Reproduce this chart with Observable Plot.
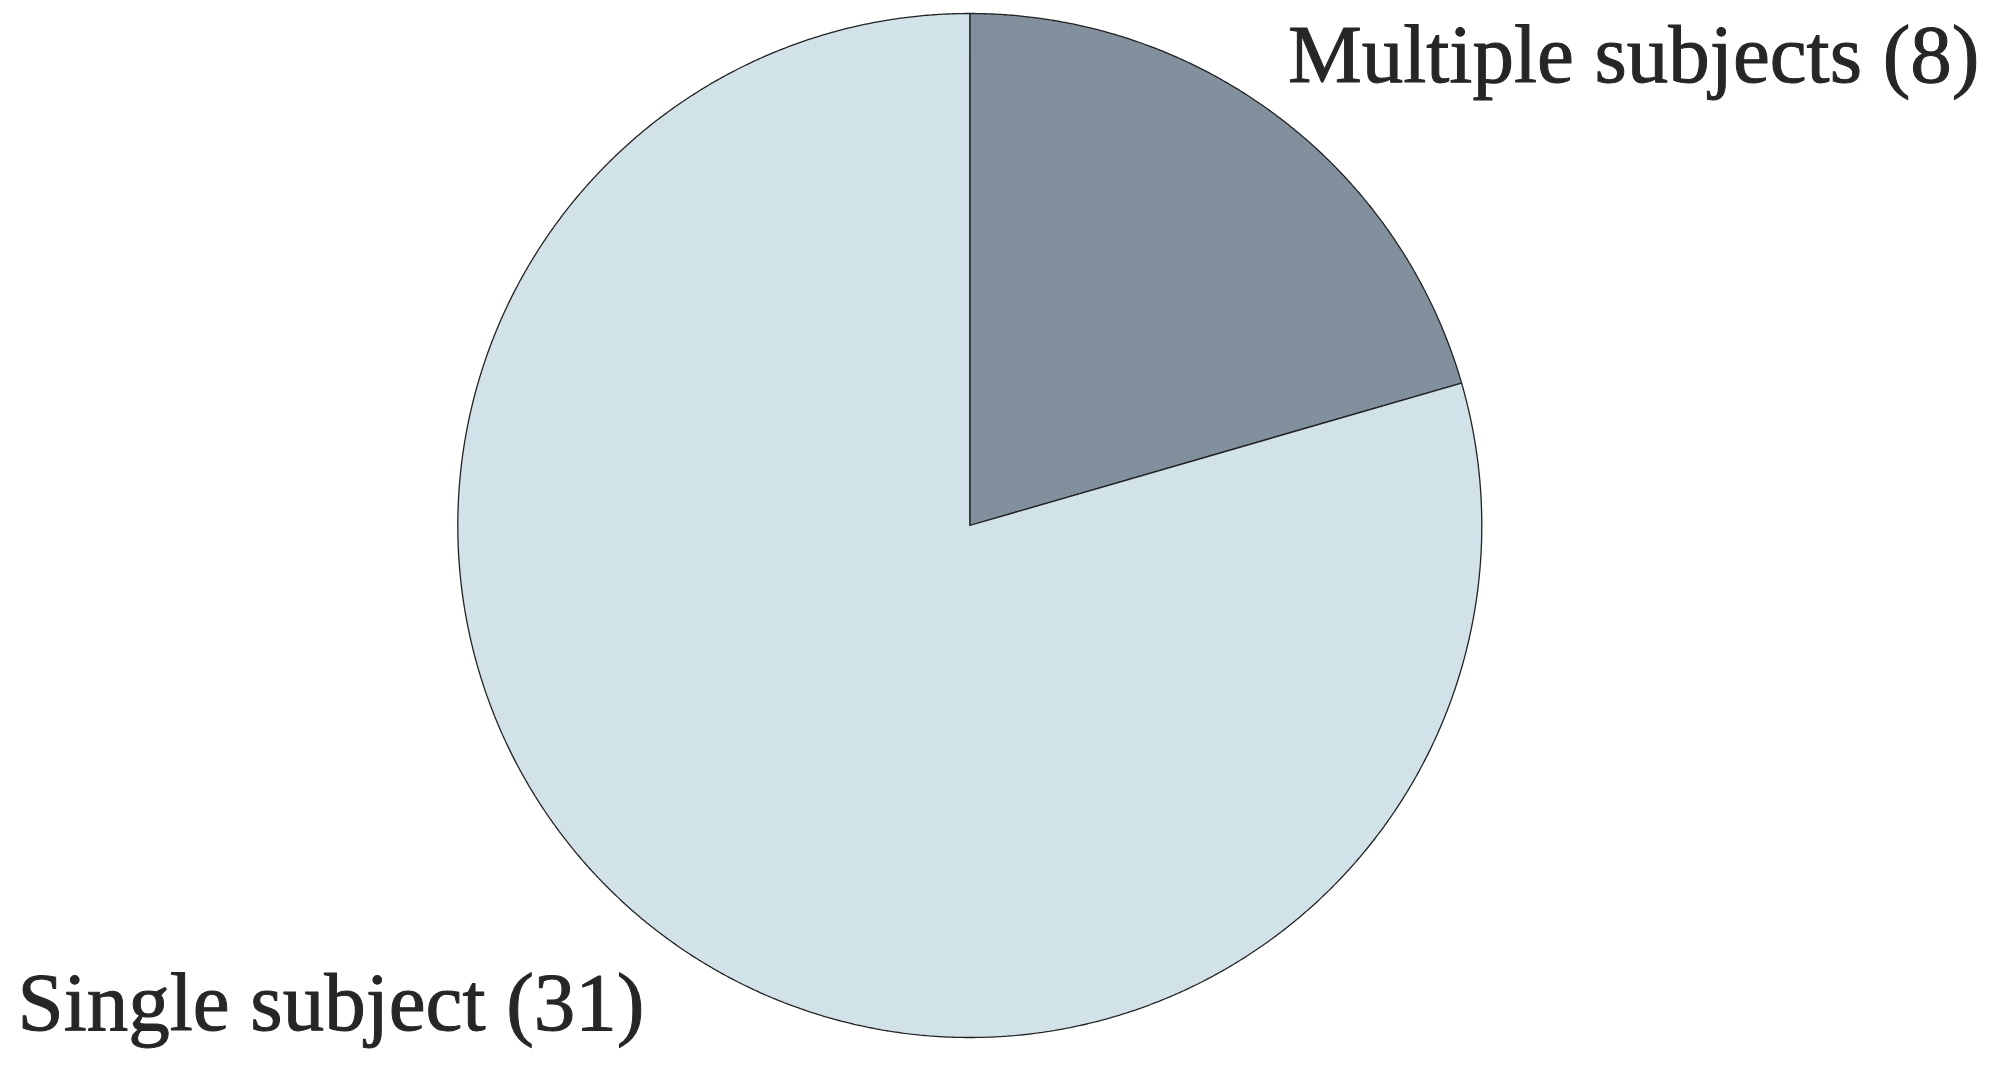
<!DOCTYPE html>
<html><head><meta charset="utf-8">
<script src="https://cdn.jsdelivr.net/npm/d3@7"></script>
<script src="https://cdn.jsdelivr.net/npm/@observablehq/plot@0.6"></script>
<style>html,body{margin:0;padding:0;background:#fff;overflow:hidden}</style>
</head><body><div id="chart"></div>
<script>
const categories = ["Multiple subjects", "Single subject"];
const counts = [8, 31];
const colors = ["#82909d", "#d1e3e9"];

const W = 1995, H = 1066;
const cx = 969.3, cy = 525, R = 512;
const FONT = "'Liberation Serif', 'Times New Roman', Times, serif";

const arcs = d3.pie().sort(null).value(d => d)(counts);
const pts = [];
arcs.forEach((a, i) => {
  const cat = categories[i];
  const n = Math.max(2, Math.ceil((a.endAngle - a.startAngle) / (Math.PI / 720)));
  pts.push({cat, x: 0, y: 0});
  for (let k = 0; k <= n; k++) {
    const t = a.startAngle + (a.endAngle - a.startAngle) * k / n;
    pts.push({cat, x: Math.sin(t), y: Math.cos(t)});
  }
  pts.push({cat, x: 0, y: 0});
});

const labels = categories.map((c, i) => ({cat: c, text: `${c} (${counts[i]})`}));

const chart = Plot.plot({
  width: W, height: H,
  margin: 0,
  x: {domain: [-cx / R, (W - cx) / R], axis: null},
  y: {domain: [-(H - cy) / R, cy / R], axis: null},
  color: {domain: categories, range: colors},
  style: {background: "#fff", fontFamily: FONT},
  marks: [
    Plot.line(pts, {x: "x", y: "y", z: "cat", fill: "cat", stroke: "#222", strokeWidth: 1.3, strokeLinejoin: "miter"}),
    Plot.text(labels.filter(d => d.cat === categories[0]), {
      text: "text", frameAnchor: "top-right", textAnchor: "end", lineAnchor: "top",
      dx: -16, dy: 23, fontSize: 83, fontFamily: FONT, fill: "#262626",
      stroke: "#262626", strokeWidth: 1
    }),
    Plot.text(labels.filter(d => d.cat === categories[1]), {
      text: "text", frameAnchor: "bottom-left", textAnchor: "start", lineAnchor: "top",
      dx: 17, dy: -95, fontSize: 83, fontFamily: FONT, fill: "#262626",
      stroke: "#262626", strokeWidth: 1
    })
  ]
});
document.getElementById("chart").appendChild(chart);
</script>
</body></html>
